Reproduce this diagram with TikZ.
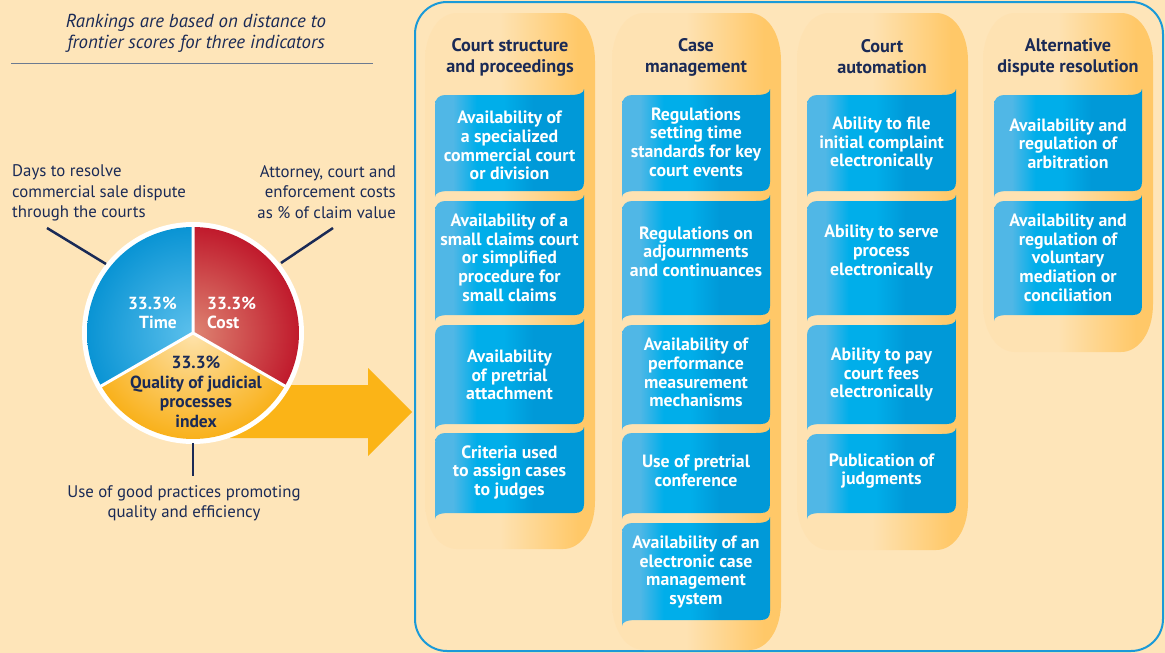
\documentclass[tikz,border=0pt]{standalone}
\usepackage{fontspec}
\setmainfont{PT Sans}
\definecolor{bg}{HTML}{FEE5B9}
\definecolor{navy}{HTML}{1A2A56}
\definecolor{frame}{HTML}{1A9AD8}
\definecolor{bl1}{HTML}{50B7E6}
\definecolor{bl2}{HTML}{00AEEA}
\definecolor{bl3}{HTML}{0099D8}
\definecolor{or1}{HTML}{FEE2B2}
\definecolor{or2}{HTML}{FFC868}
\definecolor{arrowc}{HTML}{FBB417}
\definecolor{timeo}{HTML}{0A94D4}
\definecolor{timei}{HTML}{5CC0EC}
\definecolor{costo}{HTML}{C01A2C}
\definecolor{costi}{HTML}{DE8472}
\definecolor{qualo}{HTML}{F9B11B}
\definecolor{quali}{HTML}{FEE3AC}
\definecolor{rulec}{HTML}{6C7A90}
\pgfdeclarehorizontalshading{bluesh}{100bp}{color(0bp)=(bl1); color(25bp)=(bl1); color(31bp)=(bl1); color(39bp)=(bl2); color(48bp)=(bl2); color(58bp)=(bl3); color(75bp)=(bl3); color(100bp)=(bl3)}
\pgfdeclarehorizontalshading{colsh}{100bp}{color(0bp)=(or1); color(25bp)=(or1); color(47bp)=(or1); color(70bp)=(or2); color(75bp)=(or2); color(100bp)=(or2)}
\tikzset{
  boxtext/.style={align=center, text=white, inner sep=0pt, font=\bfseries\fontsize{17.8}{18.7}\selectfont},
  colhead/.style={align=center, text=navy, inner sep=0pt, font=\bfseries\fontsize{18.2}{21}\selectfont},
  lbl/.style={text=navy, inner sep=0pt, font=\fontsize{16.8}{20.5}\selectfont},
  leader/.style={draw=navy, line width=2.5pt},
  pietext/.style={inner sep=0pt, font=\bfseries\fontsize{17.5}{19.5}\selectfont}
}
% name, x1, y1, x2, y2, text y, text
\newcommand\bbox[7]{%
  \shade[shading=bluesh] (#2,#3+10) .. controls (#2,#3+4) and (#2+4,#3) .. (#2+10,#3)
    -- (#4-14,#3) .. controls (#4-5,#3) and (#4,#3-2) .. (#4,#3-6)
    -- (#4,#5-9) .. controls (#4,#5-3) and (#4-3,#5) .. (#4-9,#5)
    -- (#2+14,#5) .. controls (#2+5,#5) and (#2,#5+2) .. (#2,#5+6) -- cycle;
  \node[boxtext] (#1) at ({(#2+#4)/2},#6) {#7};}
% x1, y1, x2, y2
\newcommand\colbar[4]{%
  \shade[shading=colsh] (#1,#2+48) .. controls (#1,#2+20) and (#1+14,#2) .. (#1+32,#2)
    -- (#3-32,#2) .. controls (#3-14,#2) and (#3,#2+20) .. (#3,#2+48)
    -- (#3,#4-48) .. controls (#3,#4-20) and (#3-14,#4) .. (#3-32,#4)
    -- (#1+32,#4) .. controls (#1+14,#4) and (#1,#4-20) .. (#1,#4-48) -- cycle;}
\begin{document}
\begin{tikzpicture}[x=1pt,y=-1pt]
\useasboundingbox (0,0) rectangle (1165,653);
\fill[bg] (0,0) rectangle (1165,653);

% header
\node[align=center, text=navy, inner sep=0pt, font=\itshape\fontsize{18.8}{21}\selectfont] (hdr) at (196,33.5) {Rankings are based on distance to\\frontier scores for three indicators};
\coordinate (ruleA) at (11,63);
\coordinate (ruleB) at (373,63);
\draw[rulec, line width=0.9pt] (ruleA) -- (ruleB);

% arrow
\fill[arrowc] (230,385) -- (368,385) -- (368,368) -- (412,412) -- (368,456) -- (368,438) -- (230,438) -- cycle;

% pie
\begin{scope}[shift={(193,333)}, yscale=-1]
  \fill[white] (0,0) circle (111);
  \begin{scope}
    \clip (0,0) -- (90:106) arc[start angle=90, end angle=210, radius=106] -- cycle;
    \shade[inner color=timei, outer color=timeo] (0,0) circle (106);
  \end{scope}
  \begin{scope}
    \clip (0,0) -- (-30:106) arc[start angle=-30, end angle=90, radius=106] -- cycle;
    \shade[inner color=costi, outer color=costo] (0,0) circle (106);
  \end{scope}
  \begin{scope}
    \clip (0,0) -- (210:106) arc[start angle=210, end angle=330, radius=106] -- cycle;
    \shade[inner color=quali, outer color=qualo] (0,0) circle (106);
  \end{scope}
  \draw[white, line width=3pt] (0,0) -- (90:108) (0,0) -- (210:108) (0,0) -- (330:108);
\end{scope}
\node[pietext, text=white, align=right, anchor=east] (ptime) at (177,313) {33.3\%\\Time};
\node[pietext, text=white, align=left, anchor=west] (pcost) at (207,313) {33.3\%\\Cost};
\node[pietext, text=navy, align=center] (pqual) at (196,392) {33.3\%\\Quality of judicial\\processes\\index};

% labels and leaders
\node[lbl, align=left, anchor=west] (ltime) at (12,193) {Days to resolve\\commercial sale dispute\\through the courts};
\node[lbl, align=right, anchor=east] (lcost) at (396,192) {Attorney, court and\\enforcement costs\\as \% of claim value};
\node[lbl, align=center] (lqual) at (184,503.5) {Use of good practices promoting\\quality and efficiency};
\coordinate (t1) at (47,228); \coordinate (t2) at (106,264);
\coordinate (c1) at (333,228); \coordinate (c2) at (281,263);
\coordinate (q1) at (193,443); \coordinate (q2) at (193,476);
\draw[leader] (t1) -- (t2);
\draw[leader] (c1) -- (c2);
\draw[leader] (q1) -- (q2);

% frame
\draw[frame, line width=2pt, rounded corners=32pt] (415,2) rectangle (1163,651);

% columns
\colbar{425}{13}{595}{549}
\colbar{612}{13}{781}{650}
\colbar{797}{13}{968}{550}
\colbar{983}{13}{1153}{352}

\node[colhead] (h1) at (510,57) {Court structure\\and proceedings};
\node[colhead] (h2) at (696,57) {Case\\management};
\node[colhead] (h3) at (882,57) {Court\\automation};
\node[colhead] (h4) at (1068,57) {Alternative\\dispute resolution};

% column 1
\bbox{a1}{435}{95}{584}{191}{145.5}{Availability of\\a specialized\\commercial court\\or division}
\bbox{a2}{435}{201}{584}{315}{257.5}{Availability of a\\small claims court\\or simplified\\procedure for\\small claims}
\bbox{a3}{435}{325}{584}{424}{375}{Availability\\of pretrial\\attachment}
\bbox{a4}{435}{433}{584}{513}{472.5}{Criteria used\\to assign cases\\to judges}
% column 2
\bbox{b1}{622}{95}{770}{191}{142}{Regulations\\setting time\\standards for key\\court events}
\bbox{b2}{622}{201}{770}{315}{251.5}{Regulations on\\adjournments\\and continuances}
\bbox{b3}{622}{325}{770}{424}{372.5}{Availability of\\performance\\measurement\\mechanisms}
\bbox{b4}{622}{433}{770}{513}{471}{Use of pretrial\\conference}
\bbox{b5}{622}{523}{770}{620}{572}{Availability of an\\electronic case\\management\\system}
% column 3
\bbox{c1b}{807}{95}{956}{191}{143.5}{Ability to file\\initial complaint\\electronically}
\bbox{c2b}{807}{201}{956}{315}{252}{Ability to serve\\process\\electronically}
\bbox{c3b}{807}{325}{956}{424}{374.5}{Ability to pay\\court fees\\electronically}
\bbox{c4b}{807}{434}{956}{513}{471}{Publication of\\judgments}
% column 4
\bbox{d1}{994}{95}{1142}{191}{143.5}{Availability and\\regulation of\\arbitration}
\bbox{d2}{994}{201}{1142}{315}{257.5}{Availability and\\regulation of\\voluntary\\mediation or\\conciliation}
\end{tikzpicture}
\end{document}
